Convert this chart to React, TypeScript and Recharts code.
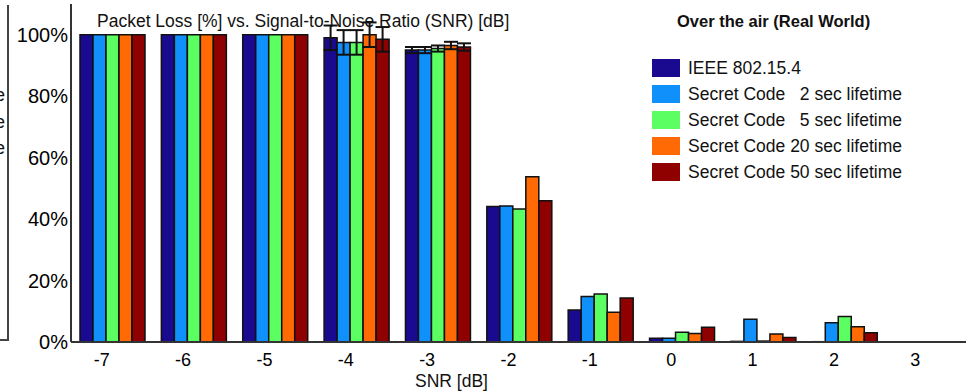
import React from 'react'
import { BarChart, Bar, XAxis, YAxis, ErrorBar } from 'recharts'

const FONT = '"Liberation Sans", Arial, sans-serif'

const snr = ['-7', '-6', '-5', '-4', '-3', '-2', '-1', '0', '1', '2', '3']

const ieee = [100, 100, 100, 99, 95, 44.1, 10.4, 1.2, 0.2, 0.1, 0]
const code2 = [100, 100, 100, 97.5, 95, 44.3, 14.8, 1.2, 7.4, 6.3, 0]
const code5 = [100, 100, 100, 97.5, 95.5, 43.3, 15.6, 3.2, 0.3, 8.3, 0]
const code20 = [100, 100, 100, 100, 96.5, 53.8, 9.7, 2.8, 2.6, 5, 0]
const code50 = [100, 100, 100, 98.5, 96, 46, 14.3, 4.8, 1.5, 3, 0]

const ieeeErr = [0, 0, 0, 4, 1, 0, 0, 0, 0, 0, 0]
const code2Err = [0, 0, 0, 4, 1, 0, 0, 0, 0, 0, 0]
const code5Err = [0, 0, 0, 4, 1, 0, 0, 0, 0, 0, 0]
const code20Err = [0, 0, 0, 4, 1.2, 0, 0, 0, 0, 0, 0]
const code50Err = [0, 0, 0, 4, 1.2, 0, 0, 0, 0, 0, 0]

const yTicks = [0, 20, 40, 60, 80, 100]

const series = [
  { key: 'ieee', err: 'ieeeErr', name: 'IEEE 802.15.4', color: '#1a0a8f' },
  { key: 'code2', err: 'code2Err', name: 'Secret Code   2 sec lifetime', color: '#0f90fb' },
  { key: 'code5', err: 'code5Err', name: 'Secret Code   5 sec lifetime', color: '#5cff62' },
  { key: 'code20', err: 'code20Err', name: 'Secret Code 20 sec lifetime', color: '#ff6a05' },
  { key: 'code50', err: 'code50Err', name: 'Secret Code 50 sec lifetime', color: '#8f0000' },
]

const data = snr.map((s, i) => ({
  snr: s,
  ieee: ieee[i], ieeeErr: ieeeErr[i],
  code2: code2[i], code2Err: code2Err[i],
  code5: code5[i], code5Err: code5Err[i],
  code20: code20[i], code20Err: code20Err[i],
  code50: code50[i], code50Err: code50Err[i],
}))

function LegendBox() {
  return (
    <div style={{ position: 'absolute', left: 652, top: 55, width: 310 }}>
      {series.map((s) => (
        <div key={s.key} style={{ display: 'flex', alignItems: 'center', height: 26 }}>
          <div style={{ width: 28, height: 18, background: s.color, marginRight: 8 }} />
          <span style={{ fontSize: 17.5, color: '#111', whiteSpace: 'pre' }}>{s.name}</span>
        </div>
      ))}
    </div>
  )
}

export default function App() {
  return (
    <div style={{ position: 'absolute', left: 0, top: 0, width: 966, height: 392, background: '#fff', fontFamily: FONT, overflow: 'hidden' }}>
      {/* edge of the neighbouring panel */}
      <div style={{ position: 'absolute', left: 7, top: 5, width: 2, height: 336, background: '#444' }} />
      <div style={{ position: 'absolute', left: 0, top: 339, width: 9, height: 2, background: '#444' }} />
      {[95, 122, 148].map((t) => (
        <div key={t} style={{ position: 'absolute', left: -5, top: t - 10, fontSize: 18, lineHeight: '20px', color: '#111' }}>e</div>
      ))}

      <BarChart
        width={966}
        height={392}
        data={data}
        margin={{ top: 4, right: 0, bottom: 0, left: 0 }}
        barCategoryGap={9}
        barGap={0}
      >
        <XAxis
          dataKey="snr"
          height={50}
          tickLine={false}
          tickMargin={5}
          axisLine={{ stroke: '#333', strokeWidth: 2 }}
          tick={{ fontSize: 18, fill: '#000', fontFamily: FONT, dx: -10 }}
        />
        <YAxis
          width={71}
          domain={[0, 110]}
          ticks={yTicks}
          tickFormatter={(v) => `${v}%`}
          tickLine={false}
          tickSize={0}
          tickMargin={3}
          axisLine={{ stroke: '#333', strokeWidth: 2 }}
          tick={{ fontSize: 20, fill: '#000', fontFamily: FONT }}
        />
        {series.map((s) => (
          <Bar key={s.key} dataKey={s.key} name={s.name} fill={s.color} stroke="#111" strokeWidth={1.5} isAnimationActive={false}>
            <ErrorBar dataKey={s.err} width={7} stroke="#111" strokeWidth={2} direction="y" />
          </Bar>
        ))}
      </BarChart>

      <LegendBox />
      <div style={{ position: 'absolute', left: 97, top: 11, fontSize: 17.5, lineHeight: '20px', color: '#111', whiteSpace: 'nowrap' }}>
        Packet Loss [%] vs. Signal-to-Noise Ratio (SNR) [dB]
      </div>
      <div style={{ position: 'absolute', left: 677, top: 11, fontSize: 16.5, fontWeight: 'bold', lineHeight: '20px', color: '#111', whiteSpace: 'nowrap' }}>
        Over the air (Real World)
      </div>
      <div style={{ position: 'absolute', left: 415, top: 371, fontSize: 17.5, lineHeight: '20px', color: '#111', whiteSpace: 'nowrap' }}>
        SNR [dB]
      </div>
    </div>
  )
}
